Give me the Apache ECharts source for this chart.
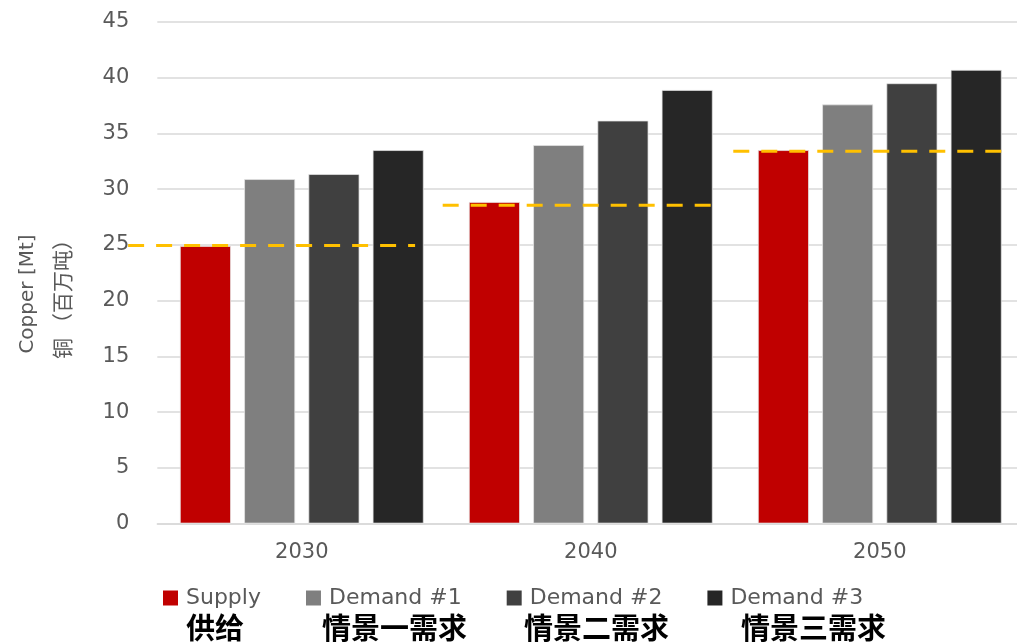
<!DOCTYPE html>
<html>
<head>
<meta charset="utf-8">
<script src="https://cdn.jsdelivr.net/npm/echarts@6/dist/echarts.min.js"></script>
<style>html,body{margin:0;padding:0;background:#fff}#c{width:1017px;height:642px}</style>
</head>
<body>
<div id="c"></div>
<script>
const categories = ['2030', '2040', '2050'];
const seriesNames = ['Supply', 'Demand #1', 'Demand #2', 'Demand #3'];
const zhNames = ['供给', '情景一需求', '情景二需求', '情景三需求'];
const supply = [24.9, 28.85, 33.5];
const demand1 = [30.9, 33.95, 37.6];
const demand2 = [31.35, 36.15, 39.5];
const demand3 = [33.5, 38.9, 40.7];
const supplyLine = [24.95, 28.55, 33.4];
const yTicks = { min: 0, max: 45, interval: 5 };

const colors = ['#C00000', '#7F7F7F', '#404040', '#262626'];
const values = [supply, demand1, demand2, demand3];
const font = '"DejaVu Sans", sans-serif';
const gray = '#595959';

// dashed segment extents relative to each category band (fractions of band width)
const dashStart = [-0.101, -0.0125, -0.007];
const dashEnd = [-0.108, -0.084, -0.078];

const chart = echarts.init(document.getElementById('c'), null, { renderer: 'canvas' });

const barSeries = seriesNames.map((n, i) => ({
  name: n,
  type: 'bar',
  data: values[i],
  barWidth: 51,
  barGap: '26%',
  itemStyle: { color: colors[i], borderColor: 'rgba(230,230,230,0.9)', borderWidth: 0.8 },
  z: 2
}));

const zhX = [186, 322, 524, 741];

const option = {
  animation: false,
  grid: { left: 157.3, top: 22, width: 867, height: 501.5, containLabel: false, outerBoundsMode: 'none' },
  legend: {
    data: seriesNames,
    left: 158,
    top: 582,
    itemWidth: 15,
    itemHeight: 15,
    itemGap: 45,
    icon: 'rect',
    itemStyle: { borderWidth: 0 },
    textStyle: { color: gray, fontSize: 22, fontFamily: font, padding: [0, 0, 0, 3] }
  },
  xAxis: {
    type: 'category',
    data: categories,
    axisLine: { lineStyle: { color: '#d9d9d9', width: 1.5 } },
    axisTick: { show: false },
    axisLabel: { color: gray, fontSize: 21, fontFamily: font, margin: 19 }
  },
  yAxis: {
    type: 'value',
    min: yTicks.min,
    max: yTicks.max,
    interval: yTicks.interval,
    axisLine: { show: false },
    axisTick: { show: false },
    splitLine: { lineStyle: { color: '#d9d9d9', width: 1.5 } },
    axisLabel: { color: gray, fontSize: 21, fontFamily: font, margin: 28 }
  },
  graphic: [
    {
      type: 'text', x: 28, y: 294, rotation: Math.PI / 2,
      style: { text: 'Copper [Mt]', fill: gray, font: '20px ' + font, textAlign: 'center', textVerticalAlign: 'middle' }
    },
    {
      type: 'text', x: 62, y: 294, rotation: Math.PI / 2,
      style: { text: '铜\u2009（百万吨）', fill: gray, font: '21px "Noto Sans CJK SC"', textAlign: 'center', textVerticalAlign: 'middle' }
    }
  ].concat(zhNames.map((t, i) => ({
    type: 'text', x: zhX[i], y: 628,
    style: { text: t, fill: '#000', font: 'bold 29px "Noto Sans CJK SC"', textAlign: 'left', textVerticalAlign: 'middle' }
  }))),
  series: barSeries.concat([{
    name: 'supplyLine',
    type: 'custom',
    clip: false,
    z: 5,
    data: supplyLine.map((v, i) => [i, v]),
    renderItem: function (params, api) {
      const idx = api.value(0);
      const c = api.coord([idx, api.value(1)]);
      const bw = api.size([1, 0])[0];
      const x1 = c[0] - bw / 2 + dashStart[idx] * bw;
      const x2 = c[0] + bw / 2 + dashEnd[idx] * bw;
      return {
        type: 'line',
        shape: { x1: x1, y1: c[1], x2: x2, y2: c[1] },
        style: { stroke: '#FFC000', lineWidth: 3, lineDash: [16, 12] }
      };
    }
  }])
};
chart.setOption(option);
</script>
</body>
</html>
